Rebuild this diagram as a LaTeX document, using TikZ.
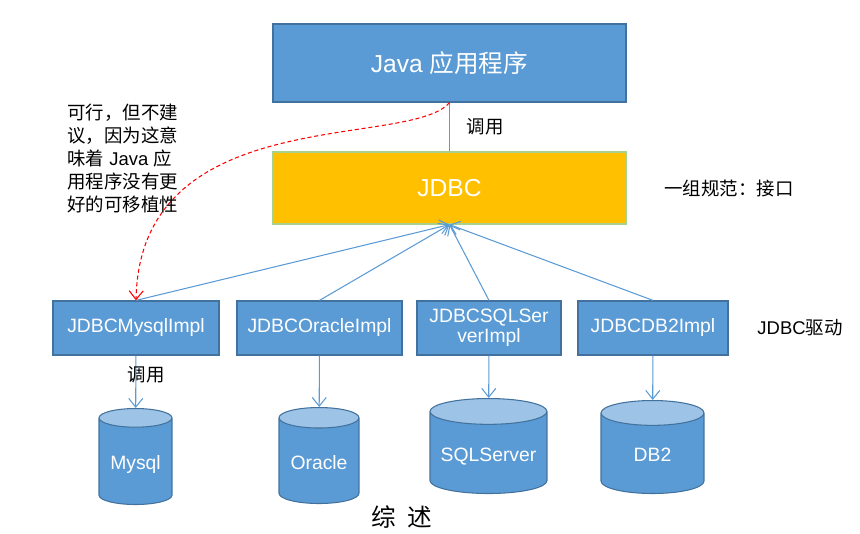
\documentclass[tikz,border=0pt]{standalone}
\usepackage{fontspec}
\setmainfont{Liberation Sans}
\newfontfamily\cjk{Noto Sans CJK SC}
\usetikzlibrary{positioning, shapes.geometric, arrows.meta}
\definecolor{jdBlue}{HTML}{5B9BD5}
\definecolor{jdEdge}{HTML}{41719C}
\definecolor{jdGold}{HTML}{FFC000}
\definecolor{jdGreen}{HTML}{A9D18E}
\definecolor{jdLight}{HTML}{9DC3E6}
\definecolor{jdRed}{HTML}{FF0000}

\tikzset{
  layer/.style={draw=jdEdge, line width=0.7pt, fill=jdBlue, text=white,
    minimum width=7.06cm, minimum height=1.56cm, font=\fontsize{14}{16}\selectfont},
  impl/.style={draw=jdEdge, line width=0.7pt, fill=jdBlue, text=white,
    minimum height=1.08cm, align=center, inner sep=1pt, font=\fontsize{11}{11.5}\selectfont},
  db/.style={cylinder, shape border rotate=90, anchor=north, draw=jdEdge, line width=0.6pt,
    cylinder uses custom fill, cylinder body fill=jdBlue, cylinder end fill=jdLight,
    text=white, inner sep=0pt, text height=9.5pt, text depth=0pt, font=\fontsize{11}{13}\selectfont},
  link/.style={draw=jdBlue, line width=0.6pt, -{Straight Barb[length=5pt, width=8pt]}},
  remark/.style={text=black, inner sep=0pt, font=\fontsize{10.5}{13}\selectfont}
}

\begin{document}
\begin{tikzpicture}[x=0.02cm, y=-0.02cm]
  \useasboundingbox (0,0) rectangle (860,534);

  % Application and interface layers
  \node[layer] (app) at (449.5,63) {Java {\cjk 应用程序}};
  \node[layer, fill=jdGold, draw=jdGreen, minimum height=1.44cm] (jdbc) at (449.5,188) {JDBC};
  \draw[jdBlue, line width=0.6pt] (app) -- (jdbc);
  \node[remark] (callTop) at (485,127) {\cjk 调用};
  \node[remark] (spec) at (729,189) {\cjk 一组规范：接口};

  % Driver implementations
  \node[impl, minimum width=3.32cm] (mysqlImpl) at (136,328) {JDBCMysqlImpl};
  \node[impl, minimum width=3.30cm] (oracleImpl) at (319.5,328) {JDBCOracleImpl};
  \node[impl, minimum width=2.88cm] (sqlImpl) at (489,328) {JDBCSQLSer\\verImpl};
  \node[impl, minimum width=3.00cm] (db2Impl) at (653,328) {JDBCDB2Impl};
  \node[remark] (driver) at (800,328) {JDBC{\cjk 驱动}};

  % Databases
  \node[db, aspect=0.37, minimum width=1.46cm, minimum height=1.92cm] (mysql) at (135.5,408) {Mysql};
  \node[db, aspect=0.36, minimum width=1.60cm, minimum height=1.92cm] (oracle) at (319,407) {Oracle};
  \node[db, aspect=0.27, minimum width=2.34cm, minimum height=1.90cm] (sqlserver) at (488.5,398) {SQLServer};
  \node[db, aspect=0.66, minimum width=2.06cm, minimum height=1.86cm] (db2) at (652.5,400) {DB2};

  % Every driver implements the interface
  \foreach \impl in {mysqlImpl, oracleImpl, sqlImpl, db2Impl}{
    \draw[link] (\impl.north) -- (jdbc.south);
  }
  \foreach \impl/\base in {mysqlImpl/mysql, oracleImpl/oracle, sqlImpl/sqlserver, db2Impl/db2}{
    \draw[link] (\impl) -- (\base);
  }
  \node[remark] (callLow) at (146,375) {\cjk 调用};

  % Direct call, possible but not recommended
  \draw[jdRed, line width=0.6pt, dash pattern=on 2.3pt off 1.6pt, -{Straight Barb[length=5pt, width=8pt]}]
    (app.south) .. controls +(-40,47) and +(4,-200) .. (mysqlImpl.north);
  \node[remark, anchor=north west, align=left] (advice) at (67,104)
    {{\cjk 可行，但不建}\\{\cjk 议，因为这意}\\{\cjk 味着} Java {\cjk 应}\\{\cjk 用程序没有更}\\{\cjk 好的可移植性}};

  \node[remark, font=\fontsize{14}{16}\selectfont] (summary) at (402,517) {\cjk 综\hspace{0.45em}述};
\end{tikzpicture}
\end{document}
